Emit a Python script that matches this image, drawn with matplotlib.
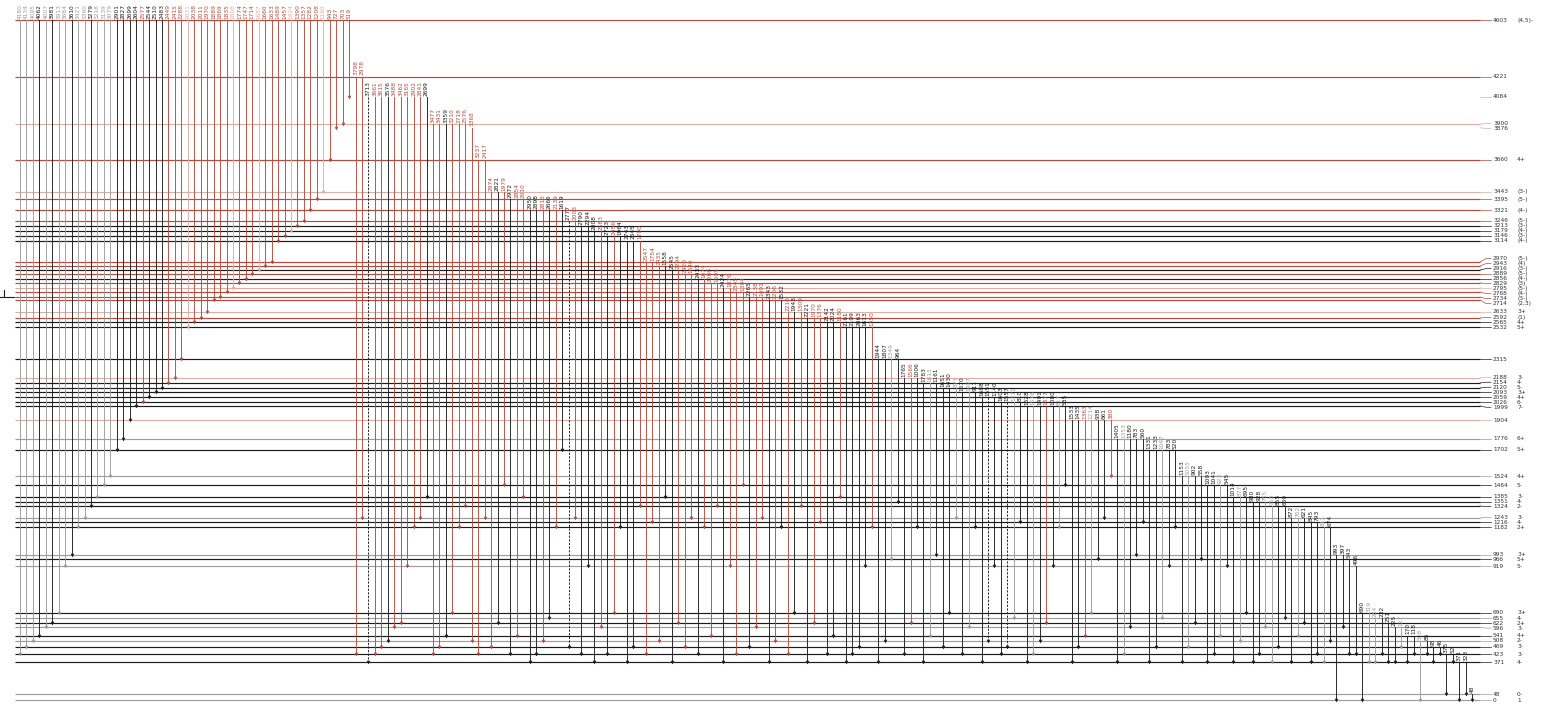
#! /usr/bin/env python
import numpy as np
import matplotlib as mpl
mpl.use("Agg")
from matplotlib import pyplot as plt

################
## Level data (keV), spin-parity and line class
level_E = [4603, 4221, 4084, 3900, 3876, 3660, 3443, 3395, 3321, 3246, 3213, 3179, 3146, 3114,
           2970, 2943, 2916, 2889, 2856, 2829, 2795, 2768, 2734, 2714, 2633, 2592, 2565, 2532,
           2315, 2188, 2154, 2120, 2093, 2059, 2026, 1999, 1904, 1776, 1702, 1524, 1464,
           1385, 1351, 1324, 1243, 1216, 1182, 993, 966, 919,
           690, 655, 622, 596, 541, 508, 469, 423, 371, 48, 0]
level_jp = ["(4,5)-", "", "", "", "", "4+", "(3-)", "(5-)", "(4-)", "(5-)", "(3-)", "(4-)", "(3-)", "(4-)",
            "(5-)", "(4)", "(3-)", "(5-)", "(4-)", "(3)", "(5-)", "(4-)", "(3-)", "(2,3)", "3+", "(1)", "4+", "5+",
            "", "3-", "4-", "5-", "3+", "4+", "6-", "7-", "", "6+", "5+", "4+", "5-",
            "3-", "4-", "2-", "3-", "4-", "2+", "3+", "5+", "5-",
            "3+", "4-", "2+", "3-", "4+", "2-", "3-", "3-", "4-", "0-", "1"]
level_kind = "rrnqnrqrrrkkkk" "rrkrkrqrrrqrkk" "kqkkkkkkqgkgk" "kkkgkkgkg" "kgkgkgkkkgg"

## Depopulating gamma rays: final levels of each level above, left to right
feeds_to = [
    [423, 469, 508, 541, 596, 622, 690, 919, 993, 1182, 1243, 1324, 1385, 1464, 1524,
     1702, 1776, 1904, 1999, 2026, 2059, 2093, 2120, 2154, 2188, 2315, 2532, 2565, 2592, 2633,
     2714, 2734, 2768, 2795, 2829, 2856, 2889, 2916, 2943, 2970, 3114, 3146, 3179, 3213, 3246,
     3321, 3395, 3443, 3660, 3876, 3900, 4084],
    [423, 1243],
    [371, 423, 469, 508, 596, 622, 919, 1182, 1243, 1385],
    [423, 469, 541, 690, 1182, 1324],
    [508],
    [423, 1243],
    [469, 622, 1464],
    [423, 541, 1385],
    [371, 423, 508, 655, 1182, 1702],
    [469, 1243],
    [423, 919],
    [371, 596],
    [423, 690, 1182],
    [371, 469, 1324],
    [423, 1216],
    [508, 1385],
    [371, 622],
    [469, 1243],
    [423, 1182],
    [541, 1324],
    [371, 919],
    [423, 1464],
    [469, 596, 1243],
    [371, 508, 1182],
    [423, 690, 1324],
    [371, 622, 1216],
    [423, 541, 1385],
    [371, 423, 469, 919, 1182],
    [371, 508, 966, 1351],
    [423, 622, 1182],
    [371, 541, 993],
    [469, 690, 1243],
    [423, 596, 1182],
    [371, 508, 919],
    [423, 469, 655, 1216],
    [371, 423, 508, 622, 919, 1182, 1464],
    [371, 469, 541, 690, 966, 1243, 1524],
    [371, 423, 596, 993, 1216],
    [371, 469, 655, 919, 1182],
    [371, 469, 622, 966],
    [371, 423, 541, 919],
    [371, 508, 690],
    [371, 423, 596],
    [371, 469, 655],
    [371, 541, 622],
    [371, 423],
    [371, 508],
    [0, 596],
    [423],
    [423],
    [0, 371],
    [371, 423],
    [371],
    [371, 469],
    [371, 423],
    [0, 423],
    [371, 423],
    [48, 371],
    [0, 48],
    [0],
    [],
]
## r = primary-like (red), q = weak red, k = secondary, g = weak, d = tentative
feeds_kind = [
    "gggkgkggkggkggg" "kkkkrkkk" "rrrqrrrrrrqrrrqrrrrqrrrrqrrrr",
    "rr", "drrkrrrrrk", "rrkrrr", "r", "rr", "rkr", "krr", "kkrkrk", "dr", "kk", "kr", "krk", "kkr",
    "rr", "rk", "kr", "rr", "kr", "rr", "kr", "rr", "krr", "krk", "rkr", "krr", "kkr", "kkkkr",
    "kkgk", "krk", "kgk", "kkg", "kgk", "kdk", "kdgk", "kgkrkgk", "kkrgkkr", "kgkkk", "kkgkk",
    "kgkk", "kkgk", "kgk", "kkg", "gkk", "kgk", "kk", "gk", "kk", "k", "k",
    "kg", "gk", "k", "kg", "kk", "gk", "kk", "kk", "kk", "k", "",
]
assert len(level_E) == len(level_jp) == len(level_kind) == len(feeds_to) == len(feeds_kind)

colors = {"r": "#b84a3c", "q": "#e2aca3", "k": "#1c1c1c", "g": "#9d9d9d", "d": "#1c1c1c"}

## Flatten into one row of transitions
g_Ei, g_Ef, g_kind = [], [], []
for Ei, finals, kinds in zip(level_E, feeds_to, feeds_kind):
    assert len(finals) == len(kinds)
    for Ef, k in zip(finals, kinds):
        g_Ei.append(Ei); g_Ef.append(Ef); g_kind.append(k)
g_x = np.arange(len(g_Ei))
N = len(g_x)

############
## Plotting
W, H = 1545, 707
fig = plt.figure(figsize=(W / 100, H / 100), dpi=100)
ax = fig.add_axes([0, 0, 1, 1])
ax.axis("off")

## Expanded energy scale (keeps the low-lying levels readable)
E_anchor = [-300, 0, 48, 371, 690, 919, 4603, 5200]
h_anchor = [-30.5, 7, 13, 45, 94, 141, 687, 775.5]
fwd = lambda e: np.interp(e, E_anchor, h_anchor)
inv = lambda h: np.interp(h, h_anchor, E_anchor)
ax.set_yscale("function", functions=(fwd, inv))
ax.set_ylim(inv(0), inv(H))

# horizontal layout in pixels
x0_px, x1_px = 20, 1472
step = (x1_px - x0_px) / (N - 1)
px = lambda p: (p - x0_px) / step
ax.set_xlim(px(0), px(W))

line_l, line_r = px(15), px(1480)

## Levels
for E, k in zip(level_E, level_kind):
    if k == "n":
        continue
    ax.hlines(E, line_l, line_r, color=colors[k], lw=0.85 if k != "q" else 0.75, zorder=1)

## Gamma transitions
for x, Ei, Ef, k in zip(g_x, g_Ei, g_Ef, g_kind):
    c = colors[k]
    ls = (0, (2.5, 1.5)) if k == "d" else "-"
    ax.plot([x, x], [Ei, Ef], color=c, lw=0.65, ls=ls, zorder=2)
    ax.plot(x, Ef, marker="v", ms=2.2, color=c, mec=c, mew=0.3, zorder=3)
    ax.annotate(str(Ei - Ef), xy=(x, Ei), xytext=(0, 1.0), textcoords="offset points",
                rotation=90, ha="center", va="bottom", fontsize=4.2, color=c)

## Level labels on the right, spread apart where levels crowd
ypix = ax.transData.transform(np.column_stack([np.zeros(len(level_E)), level_E]))[:, 1]
order = np.argsort(ypix)
ysort = ypix[order]
gap = 5.0
blocks = [[i] for i in range(len(ysort))]
while True:
    # each block sits centred on the mean of its members
    cent = []
    for b in blocks:
        m = np.mean(ysort[b])
        n = len(b)
        cent.append([m - gap * (n - 1) / 2 + gap * j for j in range(n)])
    merged = False
    for bi in range(len(blocks) - 1):
        if cent[bi + 1][0] - cent[bi][-1] < gap - 1e-6:
            blocks[bi] = blocks[bi] + blocks[bi + 1]
            del blocks[bi + 1]
            merged = True
            break
    if not merged:
        break
lab_y = np.empty(len(level_E))
for b, c in zip(blocks, cent):
    for i, y in zip(b, c):
        lab_y[order[i]] = y

inv_data = ax.transData.inverted()
for E, jp, k, yl, yp in zip(level_E, level_jp, level_kind, lab_y, ypix):
    El = inv_data.transform([(0, yl)])[0, 1]
    lc = colors[k] if k != "n" else "#bbbbbb"
    if abs(yp - yl) > 0.5:
        ax.plot([line_r, px(1486), px(1491)], [E, El, El], color=lc, lw=0.5, zorder=1)
    else:
        ax.plot([line_r, px(1491)], [E, E], color=lc, lw=0.5, zorder=1)
    ax.text(px(1493), El, str(E), fontsize=4.2, va="center", ha="left", color="#333333")
    ax.text(px(1517), El, jp, fontsize=4.2, va="center", ha="left", color="#333333")

## Neutron-separation marker at the left edge
Sn = 2734
ax.plot([px(0), px(14)], [Sn, Sn], color="#1c1c1c", lw=0.8)
ax.plot([px(4), px(4)], [Sn, Sn + 45], color="#1c1c1c", lw=0.8)

fig.savefig("out.png", dpi=100, facecolor="white")
